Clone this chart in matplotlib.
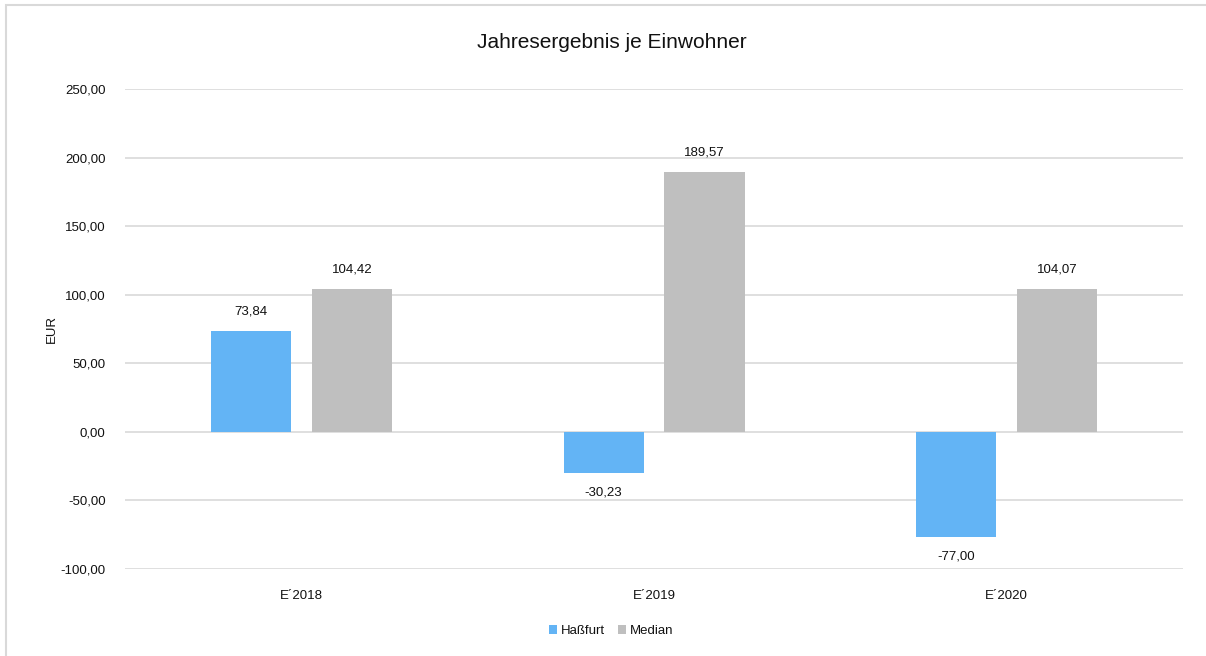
import matplotlib.pyplot as plt
import numpy as np
from matplotlib.patches import Rectangle

plt.rcParams["font.family"] = ["Liberation Sans", "DejaVu Sans"]

categories = ["E´2018", "E´2019", "E´2020"]
hassfurt = [73.84, -30.23, -77.00]
median = [104.42, 189.57, 104.07]
series_names = ["Haßfurt", "Median"]
y_ticks = [-100, -50, 0, 50, 100, 150, 200, 250]


def de_fmt(v):
    return f"{v:.2f}".replace(".", ",")


fig = plt.figure(figsize=(12.06, 6.56), dpi=100)
ax = fig.add_axes([0.1037, 0.1326, 0.8773, 0.7317])

# light frame around the chart area
fig.patches.append(Rectangle((6 / 1206, -0.05), 1.1, 0.05 + 1 - 5 / 656,
                             transform=fig.transFigure, fill=False,
                             edgecolor="#d9d9d9", linewidth=1.5))

x = np.arange(len(categories))
width = 0.227
offset = 0.143
colors = ["#63b4f5", "#bfbfbf"]
txt = "#111111"

for vals, sign, color, name in zip([hassfurt, median], [-1, 1], colors, series_names):
    bars = ax.bar(x + sign * offset, vals, width, color=color, label=name, zorder=3)
    for b, v in zip(bars, vals):
        ax.annotate(de_fmt(v), (b.get_x() + b.get_width() / 2, v),
                    xytext=(0, 14 if v >= 0 else -14), textcoords="offset points",
                    ha="center", va="center", fontsize=9.5, color=txt)

ax.set_xlim(-0.5, 2.5)
ax.set_ylim(-100, 250)
ax.set_yticks(y_ticks)
ax.set_yticklabels([de_fmt(v) for v in y_ticks])
ax.set_xticks(x)
ax.set_xticklabels(categories)
ax.tick_params(axis="both", length=0, labelsize=9.5, colors=txt)
ax.tick_params(axis="y", pad=14)
ax.tick_params(axis="x", pad=15)
ax.grid(axis="y", color="#d9d9d9", linewidth=1.2, zorder=0)
for s in ax.spines.values():
    s.set_visible(False)

ax.set_ylabel("EUR", fontsize=9.5, color=txt, labelpad=2)
fig.text(0.507, 1 - 42 / 656, "Jahresergebnis je Einwohner",
         ha="center", va="center", fontsize=15, color=txt)

fig.legend(loc="center", bbox_to_anchor=(0.507, 1 - 631 / 656), ncol=2, frameon=False,
           fontsize=9.5, handlelength=0.6, handleheight=0.6, handletextpad=0.3,
           columnspacing=1.0, labelcolor=txt)

fig.savefig("out.png", dpi=100)
